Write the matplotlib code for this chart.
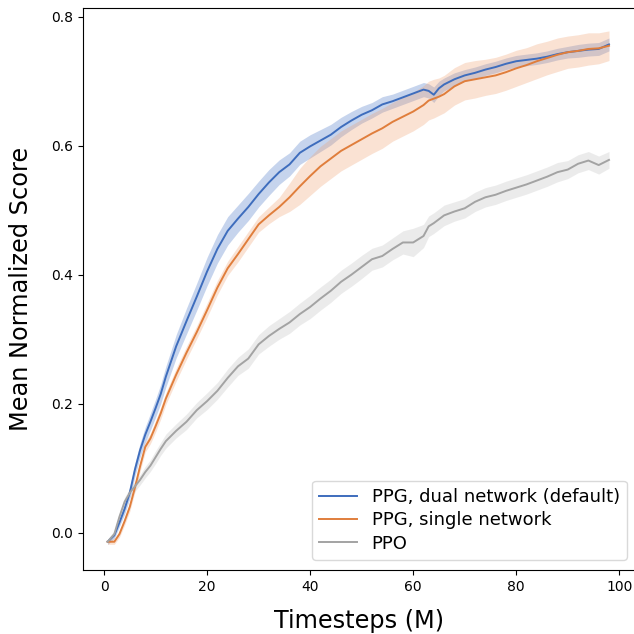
import matplotlib
matplotlib.use("Agg")
import matplotlib.pyplot as plt
import numpy as np

# timesteps (M)
t = [0.7, 2, 3, 4, 5, 6, 7, 8, 9, 10, 11, 12, 14, 16, 18, 20, 22, 24, 26, 28,
     30, 32, 34, 36, 38, 40, 42, 44, 46, 48, 50, 52, 54, 56, 58, 60, 62, 63,
     64, 65, 66, 68, 70, 72, 74, 76, 78, 80, 82, 84, 86, 88, 90, 92, 94, 96, 98]

ppg_dual = [-0.014, -0.004, 0.016, 0.037, 0.062, 0.098, 0.128, 0.152, 0.172, 0.193,
            0.215, 0.242, 0.289, 0.328, 0.366, 0.405, 0.440, 0.468, 0.487, 0.505,
            0.525, 0.543, 0.559, 0.571, 0.589, 0.599, 0.608, 0.617, 0.629, 0.639,
            0.648, 0.655, 0.664, 0.669, 0.675, 0.681, 0.687, 0.685, 0.679, 0.689,
            0.695, 0.703, 0.709, 0.713, 0.718, 0.722, 0.727, 0.731, 0.733, 0.735,
            0.738, 0.742, 0.745, 0.747, 0.749, 0.750, 0.757]
ppg_dual_sd = [0.004, 0.005, 0.006, 0.008, 0.009, 0.010, 0.011, 0.012, 0.013, 0.014,
               0.015, 0.016, 0.018, 0.020, 0.021, 0.022, 0.022, 0.022, 0.021, 0.021,
               0.020, 0.020, 0.019, 0.018, 0.018, 0.018, 0.017, 0.016, 0.015, 0.014,
               0.013, 0.012, 0.012, 0.011, 0.011, 0.011, 0.011, 0.011, 0.012, 0.011,
               0.010, 0.010, 0.009, 0.009, 0.009, 0.009, 0.009, 0.009, 0.009, 0.009,
               0.009, 0.009, 0.009, 0.010, 0.010, 0.010, 0.010]

ppg_single = [-0.014, -0.014, -0.002, 0.018, 0.040, 0.070, 0.103, 0.133, 0.146, 0.165,
              0.185, 0.208, 0.245, 0.279, 0.311, 0.345, 0.380, 0.410, 0.432, 0.455,
              0.478, 0.492, 0.505, 0.520, 0.537, 0.553, 0.568, 0.580, 0.592, 0.601,
              0.610, 0.619, 0.627, 0.637, 0.645, 0.653, 0.663, 0.670, 0.673, 0.676,
              0.680, 0.692, 0.700, 0.703, 0.706, 0.709, 0.714, 0.720, 0.725, 0.731,
              0.736, 0.741, 0.745, 0.747, 0.750, 0.751, 0.755]
ppg_single_sd = [0.004, 0.004, 0.005, 0.006, 0.007, 0.007, 0.008, 0.008, 0.008, 0.009,
                 0.009, 0.009, 0.010, 0.010, 0.010, 0.011, 0.011, 0.011, 0.012, 0.012,
                 0.012, 0.013, 0.015, 0.022, 0.028, 0.030, 0.031, 0.031, 0.031, 0.031,
                 0.031, 0.031, 0.031, 0.030, 0.030, 0.030, 0.030, 0.030, 0.030, 0.029,
                 0.029, 0.029, 0.029, 0.029, 0.028, 0.028, 0.028, 0.028, 0.027, 0.027,
                 0.026, 0.026, 0.025, 0.025, 0.025, 0.024, 0.023]

ppo = [-0.014, -0.002, 0.025, 0.048, 0.062, 0.072, 0.082, 0.094, 0.104, 0.117,
       0.130, 0.142, 0.158, 0.172, 0.190, 0.204, 0.220, 0.240, 0.258, 0.270,
       0.292, 0.305, 0.316, 0.326, 0.339, 0.350, 0.363, 0.375, 0.389, 0.400,
       0.412, 0.424, 0.429, 0.440, 0.450, 0.450, 0.460, 0.475, 0.480, 0.486,
       0.492, 0.498, 0.503, 0.513, 0.520, 0.524, 0.530, 0.535, 0.540, 0.546,
       0.552, 0.559, 0.563, 0.572, 0.577, 0.570, 0.578]
ppo_sd = [0.004, 0.005, 0.006, 0.007, 0.007, 0.008, 0.008, 0.009, 0.009, 0.010,
          0.010, 0.011, 0.011, 0.012, 0.012, 0.013, 0.013, 0.014, 0.014, 0.015,
          0.015, 0.016, 0.016, 0.017, 0.017, 0.018, 0.018, 0.018, 0.018, 0.018,
          0.018, 0.017, 0.017, 0.017, 0.018, 0.022, 0.018, 0.016, 0.016, 0.016,
          0.016, 0.015, 0.015, 0.015, 0.015, 0.015, 0.015, 0.015, 0.015, 0.015,
          0.015, 0.015, 0.014, 0.014, 0.014, 0.014, 0.013]

labels = ["PPG, dual network (default)", "PPG, single network", "PPO"]
colors = ["#3e6dbd", "#e07e3c", "#a3a3a3"]
band_colors = ["#4472c4", "#f0a070", "#c0c0c0"]

AX_RIGHT_PX = 637.3
fig = plt.figure(figsize=(6.34, 6.34), dpi=100)
ax = fig.add_axes([83/634, 1 - 570/634, (AX_RIGHT_PX - 83)/634, (570 - 8)/634])

tt = np.array(t)
series = [(ppg_dual, ppg_dual_sd), (ppg_single, ppg_single_sd), (ppo, ppo_sd)]
for (m, s), lab, c, bc in zip(series, labels, colors, band_colors):
    m = np.array(m); s = np.array(s)
    ax.fill_between(tt, m - s, m + s, color=bc, alpha=0.3, linewidth=0)
    ax.plot(tt, m, color=c, lw=1.4, label=lab)

ax.set_xlim(-4.08, (AX_RIGHT_PX - 104) / 5.153)
ax.set_ylim(-0.0578, 0.8135)
ax.set_xticks([0, 20, 40, 60, 80, 100])
ax.set_yticks([0.0, 0.2, 0.4, 0.6, 0.8])
ax.tick_params(labelsize=10)
ax.spines['right'].set_visible(False)

ax.set_xlabel("Timesteps (M)", fontsize=17.3, va="top")
ax.xaxis.set_label_coords((359 - 83) / (AX_RIGHT_PX - 83), -(609 - 570) / 562)
ax.set_ylabel("Mean Normalized Score", fontsize=17.3, labelpad=13)

leg = ax.legend(loc="lower right", fontsize=13, frameon=True, labelspacing=0.3,
                handlelength=2.1, handletextpad=0.8,
                bbox_to_anchor=((627 - 83) / (AX_RIGHT_PX - 83), 10/562), borderaxespad=0)
leg.get_frame().set_edgecolor("#d0d0d0")

fig.savefig("out.png", dpi=100)
